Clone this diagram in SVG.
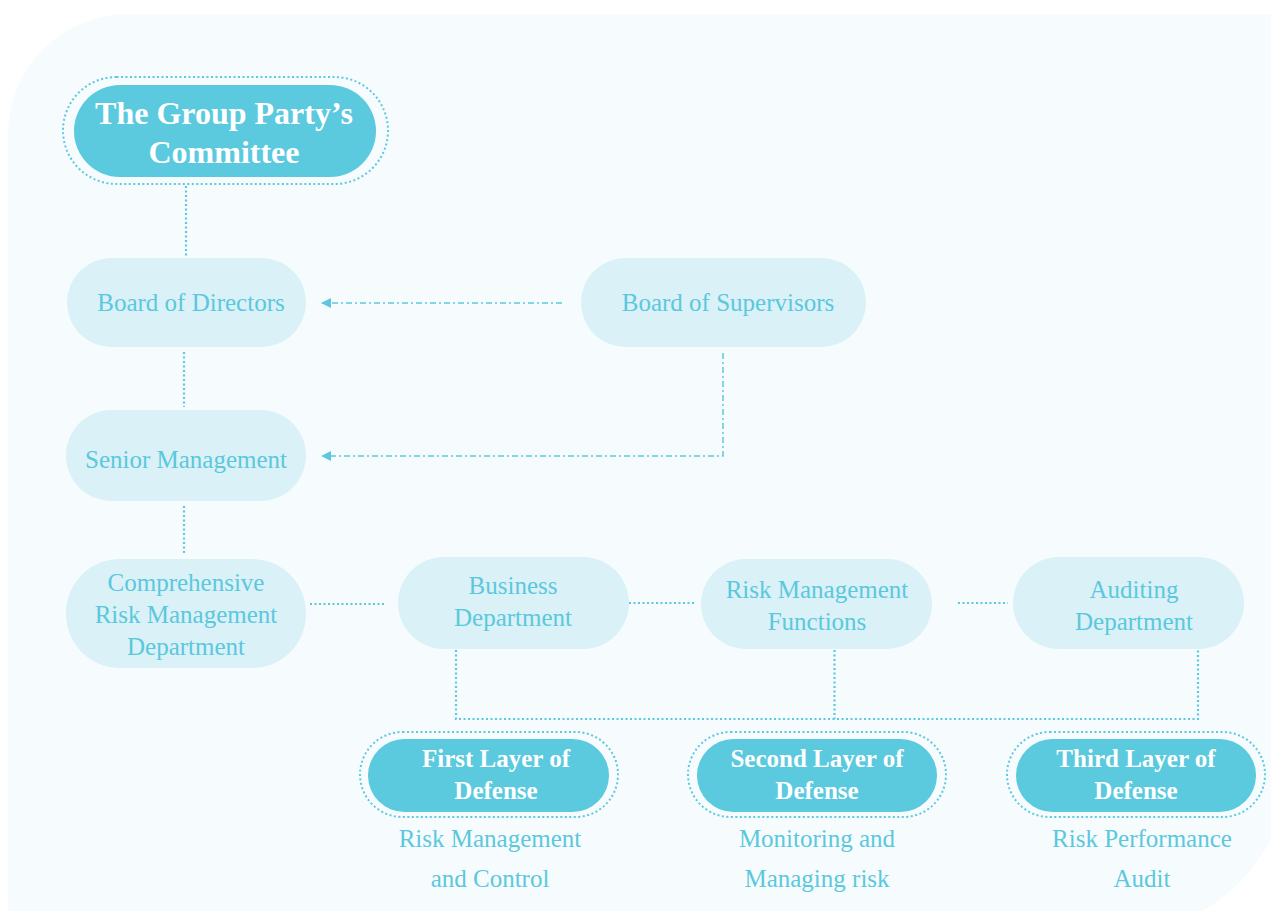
<svg xmlns="http://www.w3.org/2000/svg" width="1271" height="911" viewBox="0 0 1271 911">
<defs>
<style>
.light{fill:#d9f1f7;}
.dark{fill:#5bc9de;}
.ring{fill:none;stroke:#5bc9de;stroke-width:2;stroke-dasharray:2 2.5;}
.lt{font-family:"Liberation Serif","Times New Roman",serif;font-size:25px;fill:#5bc8dd;text-anchor:middle;}
.dt{font-family:"Liberation Serif","Times New Roman",serif;font-size:25px;font-weight:bold;fill:#ffffff;text-anchor:middle;}
.big{font-size:32px;}
.dot{fill:none;stroke:#5bc8dd;stroke-width:2.2;stroke-dasharray:2 2.5;}
.dd{fill:none;stroke:#5bc8dd;stroke-width:1.5;stroke-dasharray:6 3 2 3;}
</style>
<marker id="arr" viewBox="0 0 10 10" refX="9" refY="5" markerWidth="10" markerHeight="10" markerUnits="userSpaceOnUse" orient="auto">
<path d="M0,0 L10,5 L0,10 Z" fill="#5bc8dd"/>
</marker>
</defs>
<rect width="1271" height="911" fill="#ffffff"/>
<path d="M128,14 L1290,14 L1290,760 A174,174 0 0 1 1116,934 L8,934 L8,134 A120,120 0 0 1 128,14 Z" fill="#f6fcfd"/>

<g id="connectors">
<line class="dot" x1="186" y1="186" x2="186" y2="256"/>
<line class="dot" x1="184" y1="352" x2="184" y2="407"/>
<line class="dot" x1="184" y1="506" x2="184" y2="555"/>
<line class="dd" x1="562" y1="303" x2="322" y2="303" marker-end="url(#arr)"/>
<polyline class="dd" points="723,353 723,456 322,456" marker-end="url(#arr)"/>
<line class="dot" x1="310" y1="604" x2="385" y2="604"/>
<line class="dot" x1="629" y1="603" x2="695" y2="603"/>
<line class="dot" x1="958" y1="603" x2="1008" y2="603"/>
<polyline class="dot" points="456,650 456,719 1198,719 1198,648"/>
<line class="dot" x1="834.5" y1="650" x2="834.5" y2="719"/>
</g>

<g id="party">
<rect class="ring" x="63" y="77" width="325" height="107" rx="53.5"/>
<rect class="dark" x="74" y="85" width="302" height="92" rx="46"/>
<text class="dt big" x="224" y="124">The Group Party’s</text>
<text class="dt big" x="224" y="163">Committee</text>
</g>

<g id="directors">
<rect class="light" x="67" y="258" width="239" height="89" rx="44.5"/>
<text class="lt" x="191" y="311">Board of Directors</text>
</g>

<g id="supervisors">
<rect class="light" x="581" y="258" width="285" height="89" rx="44.5"/>
<text class="lt" x="728" y="311">Board of Supervisors</text>
</g>

<g id="senior">
<rect class="light" x="66" y="410" width="240" height="91" rx="45.5"/>
<text class="lt" x="186" y="468">Senior Management</text>
</g>

<g id="comprehensive">
<rect class="light" x="66" y="559" width="240" height="109" rx="54"/>
<text class="lt" x="186" y="591">Comprehensive</text>
<text class="lt" x="186" y="623">Risk Management</text>
<text class="lt" x="186" y="655">Department</text>
</g>

<g id="business">
<rect class="light" x="398" y="557" width="231" height="92" rx="46"/>
<text class="lt" x="513" y="594">Business</text>
<text class="lt" x="513" y="626">Department</text>
</g>

<g id="rmf">
<rect class="light" x="701" y="559" width="231" height="90" rx="45"/>
<text class="lt" x="817" y="598">Risk Management</text>
<text class="lt" x="817" y="630">Functions</text>
</g>

<g id="auditing">
<rect class="light" x="1013" y="557" width="231" height="92" rx="46"/>
<text class="lt" x="1134" y="598">Auditing</text>
<text class="lt" x="1134" y="630">Department</text>
</g>

<g id="first">
<rect class="ring" x="360" y="732" width="258" height="85" rx="42.5"/>
<rect class="dark" x="368" y="739" width="241" height="73" rx="36.5"/>
<text class="dt" x="496" y="767">First Layer of</text>
<text class="dt" x="496" y="799">Defense</text>
<text class="lt" x="490" y="847">Risk Management</text>
<text class="lt" x="490" y="887">and Control</text>
</g>

<g id="second">
<rect class="ring" x="688" y="732" width="258" height="85" rx="42.5"/>
<rect class="dark" x="697" y="739" width="240" height="73" rx="36.5"/>
<text class="dt" x="817" y="767">Second Layer of</text>
<text class="dt" x="817" y="799">Defense</text>
<text class="lt" x="817" y="847">Monitoring and</text>
<text class="lt" x="817" y="887">Managing risk</text>
</g>

<g id="third">
<rect class="ring" x="1007" y="732" width="258" height="85" rx="42.5"/>
<rect class="dark" x="1016" y="739" width="240" height="73" rx="36.5"/>
<text class="dt" x="1136" y="767">Third Layer of</text>
<text class="dt" x="1136" y="799">Defense</text>
<text class="lt" x="1142" y="847">Risk Performance</text>
<text class="lt" x="1142" y="887">Audit</text>
</g>
</svg>
